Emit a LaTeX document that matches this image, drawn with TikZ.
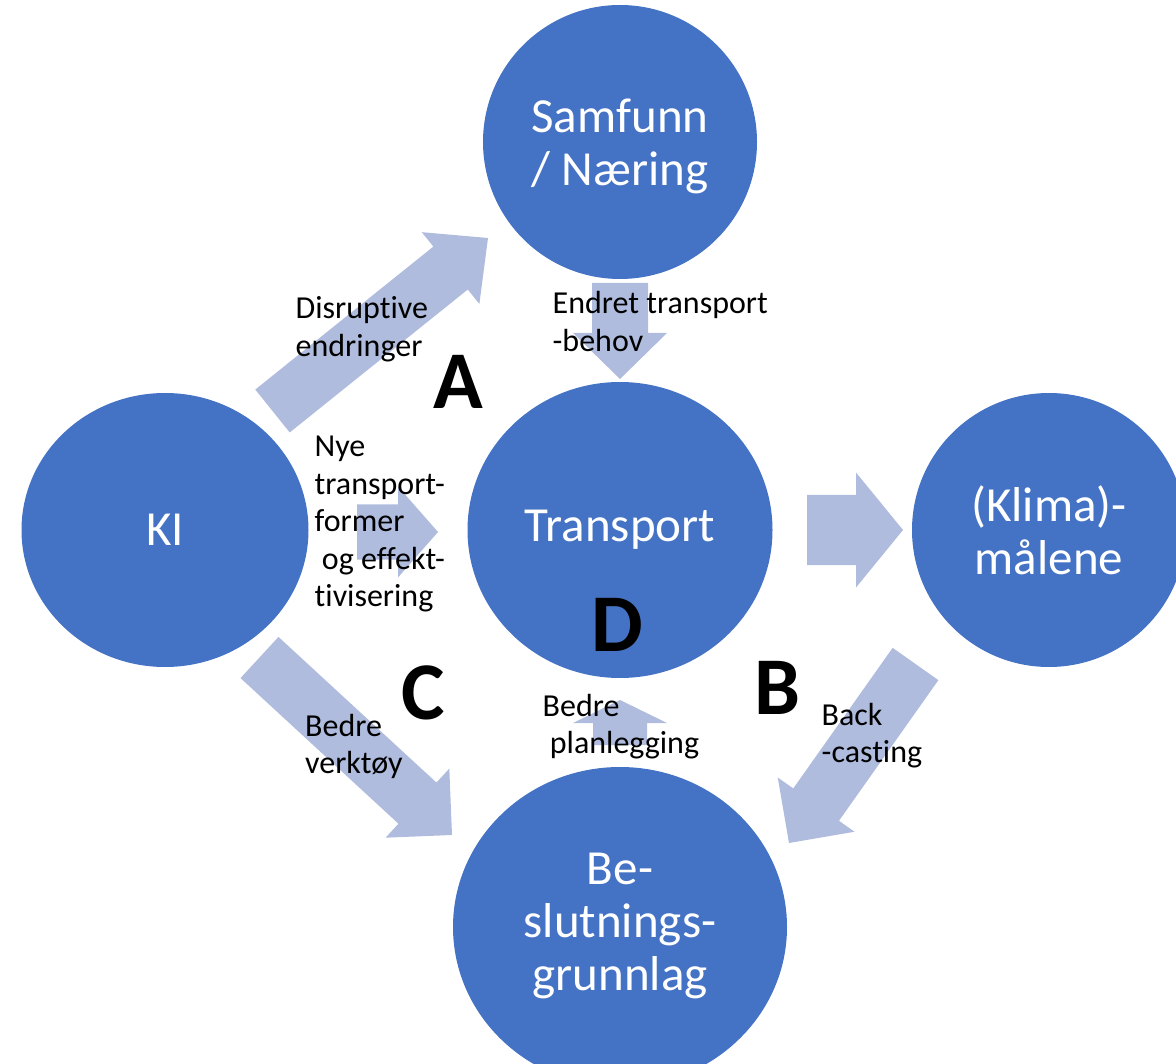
\documentclass[tikz,border=0pt]{standalone}
\usepackage{fontspec}
\setmainfont{Carlito}[Ligatures=NoCommon]
\usetikzlibrary{shapes.geometric,calc}
\definecolor{circblue}{HTML}{4472C4}
\definecolor{arrowblue}{HTML}{AFBCDE}
% block arrow: tail, tip, half shaft width, half head width, head length
\newcommand{\blockarr}[5]{%
  \coordinate (bneck) at ($(#2)!#5!(#1)$);
  \fill[arrowfill] ($(#1)!#3!90:(#2)$) -- ($(bneck)!#3!90:(#2)$) -- ($(bneck)!#4!90:(#2)$) -- (#2)
    -- ($(bneck)!#4!-90:(#2)$) -- ($(bneck)!#3!-90:(#2)$) -- ($(#1)!#3!-90:(#2)$) -- cycle;}
\begin{document}
\begin{tikzpicture}[x=1pt,y=-1pt,
  bigcircle/.style={ellipse, fill=circblue, draw=none, inner sep=0pt, text=white, align=center, font=\fontsize{49}{53}\selectfont},
  circtext/.style={inner sep=0pt, text=white, align=center, font=\fontsize{49}{53}\selectfont},
  lbl/.style={anchor=west, align=left, inner sep=0pt, font=\fontsize{32}{37.5}\selectfont},
  letter/.style={inner sep=0pt, font=\fontsize{82}{90}\selectfont\bfseries},
  arrowfill/.style={fill=arrowblue, draw=none}]
\useasboundingbox (0,0) rectangle (1176,1064);
\clip (0,0) rectangle (1176,1064);

% arrow end points
\coordinate (aT) at (272.5,411);   \coordinate (aH) at (488,238);
\coordinate (sT) at (620,283);     \coordinate (sH) at (620,379);
\coordinate (kT) at (357,532);     \coordinate (kH) at (438,532);
\coordinate (tT) at (807,530);     \coordinate (tH) at (903,530);
\coordinate (cT) at (259.5,657.5); \coordinate (cH) at (452,835);
\coordinate (dT) at (620,745);     \coordinate (dH) at (620,700);
\coordinate (bT) at (915.5,664);   \coordinate (bH) at (789,843);

\blockarr{aT}{aH}{27.5pt}{46pt}{48pt}
\blockarr{sT}{sH}{28pt}{47pt}{46pt}
\blockarr{kT}{kH}{27.5pt}{45.5pt}{40pt}
\blockarr{tT}{tH}{35pt}{57.5pt}{47pt}
\blockarr{cT}{cH}{28pt}{47pt}{47pt}
\blockarr{dT}{dH}{27pt}{47pt}{23pt}
\blockarr{bT}{bH}{28pt}{47pt}{47pt}

% circles
\node[bigcircle, minimum width=274pt, minimum height=274pt] (sam) at (620,142) {};
\node[circtext] (samt) at (620,146) {Samfunn\\/ Næring};
\node[bigcircle, minimum width=287pt, minimum height=274pt] (ki) at (165,530) {KI};
\node[bigcircle, minimum width=305pt, minimum height=296pt] (trans) at (620,530) {Transport};
\node[bigcircle, minimum width=274pt, minimum height=274pt] (klima) at (1049,530) {(Klima)-\\målene};
\node[bigcircle, minimum width=334pt, minimum height=320pt] (besl) at (620,927) {};
\node[circtext] (beslt) at (620,926) {Be-\\slutnings-\\grunnlag};

% labels
\node[lbl] (l1) at (295.5,329) {Disruptive\\endringer};
\node[lbl] (l2) at (552.5,321.5) {Endret transport\\-behov};
\node[lbl] (l3) at (314.5,524) {Nye\\transport-\\former\\\hspace*{0.226em}og effekt-\\tivisering};
\node[lbl] (l4) at (305,746.7) {Bedre\\verktøy};
\node[lbl] (l5) at (542.5,726.7) {Bedre\\\hspace*{0.226em}planlegging};
\node[lbl] (l6) at (821.5,735.7) {Back\\-casting};

% letters
\node[letter] (lA) at (458,382) {A};
\node[letter] (lB) at (777,688) {B};
\node[letter] (lC) at (423,693) {C};
\node[letter] (lD) at (617,625) {D};
\end{tikzpicture}
\end{document}
